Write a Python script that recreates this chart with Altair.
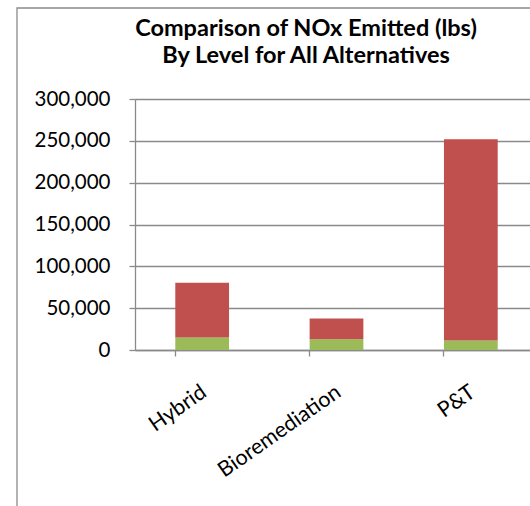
import altair as alt
import pandas as pd

# NOx emitted (lbs) per alternative, split by level
alternatives = ["Hybrid", "Bioremediation", "P&T"]
level_lower = [15000, 12700, 11500]   # green segment (bottom)
level_upper = [65500, 25000, 240500]  # red segment (top)
y_ticks = [0, 50000, 100000, 150000, 200000, 250000, 300000]
title_text = "Comparison of NOx Emitted (lbs)\nBy Level for All Alternatives"

rows = []
for a, lo, up in zip(alternatives, level_lower, level_upper):
    rows.append({"Alternative": a, "Level": "Level 1", "order": 1, "NOx": lo})
    rows.append({"Alternative": a, "Level": "Level 2", "order": 2, "NOx": up})
df = pd.DataFrame(rows)

FONT = "Lato"
GRID = "#8a8a8a"

bars = alt.Chart(df).mark_bar().encode(
    x=alt.X(
        "Alternative:N",
        sort=alternatives,
        title=None,
        scale=alt.Scale(range=[0, 403], paddingInner=0.6, paddingOuter=0.3),
        axis=alt.Axis(
            bandPosition=0,
            labelAngle=-35,
            labelAlign="right",
            labelBaseline="top",
            labelPadding=25,
            labelOffset=-4,
            labelFontSize=21.5,
            labelFont=FONT,
            labelColor="#000000",
            tickSize=6,
            tickColor=GRID,
            tickWidth=1.3,
            domainColor=GRID,
            domainWidth=1.3,
            grid=False,
        ),
    ),
    y=alt.Y(
        "NOx:Q",
        stack="zero",
        title=None,
        scale=alt.Scale(domain=[0, 300000], nice=False),
        axis=alt.Axis(
            values=y_ticks,
            format=",d",
            labelFontSize=20.5,
            labelFont=FONT,
            labelColor="#000000",
            labelPadding=19,
            tickSize=6,
            tickColor=GRID,
            tickWidth=1.3,
            domainColor=GRID,
            domainWidth=1.3,
            gridColor=GRID,
            gridWidth=1.3,
            gridOpacity=1,
        ),
    ),
    color=alt.Color(
        "Level:N",
        scale=alt.Scale(domain=["Level 1", "Level 2"], range=["#9bbb59", "#c0504d"]),
        legend=None,
    ),
    order=alt.Order("order:Q"),
)

# Chart-area frame
frame = alt.Chart(pd.DataFrame({"k": [0]})).mark_rect(
    fill=None, stroke="#8a8a8a", strokeWidth=1.3
).encode(
    x=alt.value(-118), x2=alt.value(700), y=alt.value(-91), y2=alt.value(700)
)

# Two-line chart heading
heading = alt.Chart(pd.DataFrame({"t": [title_text]})).mark_text(
    font=FONT,
    fontSize=23.5,
    fontWeight="bold",
    color="#000000",
    align="center",
    baseline="alphabetic",
    lineBreak="\n",
    lineHeight=27,
).encode(text="t:N", x=alt.value(171), y=alt.value(-63))

chart = alt.layer(frame, bars, heading).properties(
    width=395,
    height=251,
    padding={"left": 135, "top": 99, "right": 0, "bottom": 156},
    autosize=alt.AutoSizeParams(type="none"),
).configure_view(stroke=None).configure(background="white")

chart.save("out.html", embed_options={"renderer": "svg", "actions": False})
